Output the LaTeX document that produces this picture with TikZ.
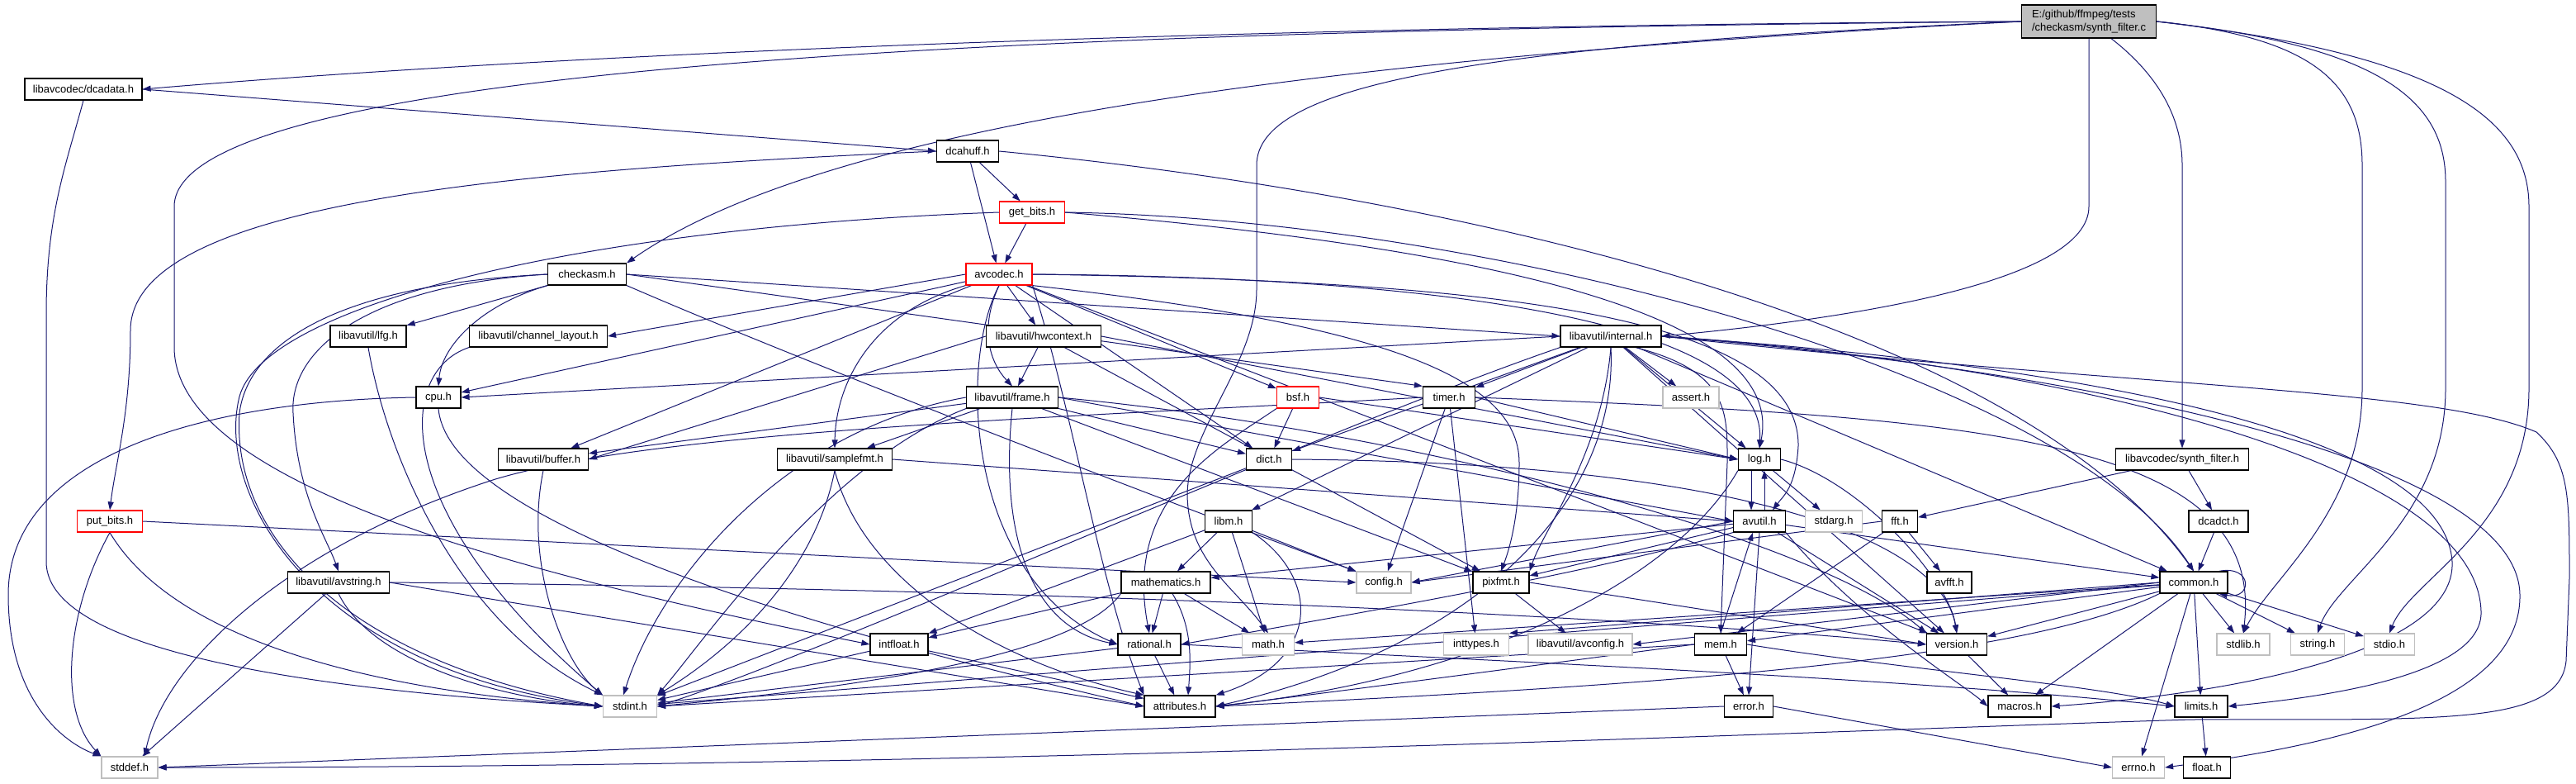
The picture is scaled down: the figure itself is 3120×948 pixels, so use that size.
\documentclass[tikz,border=0pt]{standalone}
\usepackage{fontspec}
\setmainfont{Liberation Sans}
\usetikzlibrary{arrows.meta}
\definecolor{edgec}{HTML}{191970}
\definecolor{grayb}{HTML}{BFBFBF}
\newcommand\ndfont{\fontsize{13}{16}\selectfont}
\pgfdeclarelayer{bgl}
\pgfdeclarelayer{edl}
\pgfsetlayers{bgl,edl,main}
\tikzset{
  base/.style={rectangle, fill=white, inner xsep=4pt, inner ysep=0pt, minimum height=26pt, font=\ndfont, line width=1.2pt},
  nb/.style={base, draw=black},
  nr/.style={base, draw=red},
  ng/.style={base, draw=grayb},
  ed/.style={draw=edgec, line width=1pt, -{Triangle[length=10pt,width=7pt]}},
}
\begin{document}
\begin{tikzpicture}[x=1pt,y=-1pt]
\begin{pgfonlayer}{bgl}
\fill[white] (0,0) rectangle (3120,948);
\end{pgfonlayer}
\useasboundingbox (0,0) rectangle (3120,948);

% nodes
\node[base, draw=black, fill=grayb, minimum width=163pt, minimum height=40pt, align=left] (E) at (2530,26) {E:/github/ffmpeg/tests\\/checkasm/synth\_filter.c};
\node[nb, minimum width=142pt] (dcadata) at (101,108) {libavcodec/dcadata.h};
\node[nb, minimum width=75pt] (dcahuff) at (1172,183) {dcahuff.h};
\node[nr, minimum width=79pt] (getbits) at (1250,257) {get\_bits.h};
\node[nb, minimum width=95pt] (checkasm) at (711,332) {checkasm.h};
\node[nr, minimum width=80pt] (avcodec) at (1210,332) {avcodec.h};
\node[nb, minimum width=92pt] (lfg) at (446,407) {libavutil/lfg.h};
\node[nb, minimum width=167pt] (chlayout) at (652,407) {libavutil/channel\_layout.h};
\node[nb, minimum width=139pt] (hwctx) at (1264,407) {libavutil/hwcontext.h};
\node[nb, minimum width=122pt] (internal) at (1951,407) {libavutil/internal.h};
\node[nb, minimum width=54pt] (cpu) at (531,481) {cpu.h};
\node[nb, minimum width=111pt] (frame) at (1226,481) {libavutil/frame.h};
\node[nr, minimum width=51pt] (bsf) at (1572,481) {bsf.h};
\node[nb, minimum width=63pt] (timer) at (1755,481) {timer.h};
\node[ng, minimum width=68pt] (assert) at (2048,481) {assert.h};
\node[nb, minimum width=109pt] (buffer) at (658,556) {libavutil/buffer.h};
\node[nb, minimum width=139pt] (samplefmt) at (1011,556) {libavutil/samplefmt.h};
\node[nb, minimum width=55pt] (dict) at (1537,556) {dict.h};
\node[nb, minimum width=51pt] (log) at (2131,556) {log.h};
\node[nb, minimum width=161pt] (synthf) at (2643,556) {libavcodec/synth\_filter.h};
\node[nr, minimum width=79pt] (putbits) at (133,631) {put\_bits.h};
\node[nb, minimum width=57pt] (libm) at (1488,631) {libm.h};
\node[nb, minimum width=63pt] (avutil) at (2131,631) {avutil.h};
\node[ng, minimum width=69pt] (stdarg) at (2221,631) {stdarg.h};
\node[nb, minimum width=43pt] (fft) at (2301,631) {fft.h};
\node[nb, minimum width=72pt] (dcadct) at (2687,631) {dcadct.h};
\node[nb, minimum width=123pt] (avstring) at (410,705) {libavutil/avstring.h};
\node[nb, minimum width=108pt] (mathematics) at (1412,705) {mathematics.h};
\node[ng, minimum width=66pt] (config) at (1676,705) {config.h};
\node[nb, minimum width=68pt] (pixfmt) at (1818,705) {pixfmt.h};
\node[nb, minimum width=54pt] (avfft) at (2361,705) {avfft.h};
\node[nb, minimum width=82pt] (common) at (2657,705) {common.h};
\node[nb, minimum width=70pt] (intfloat) at (1089,780) {intfloat.h};
\node[nb, minimum width=76pt] (rational) at (1392,780) {rational.h};
\node[ng, minimum width=63pt] (math) at (1536,780) {math.h};
\node[ng, minimum width=79pt] (inttypes) at (1788,780) {inttypes.h};
\node[ng, minimum width=126pt] (avconfig) at (1914,780) {libavutil/avconfig.h};
\node[nb, minimum width=63pt] (mem) at (2084,780) {mem.h};
\node[nb, minimum width=73pt] (version) at (2370,780) {version.h};
\node[ng, minimum width=64pt] (stdlib) at (2717,780) {stdlib.h};
\node[ng, minimum width=65pt] (string) at (2807,780) {string.h};
\node[ng, minimum width=61pt] (stdio) at (2894,780) {stdio.h};
\node[ng, minimum width=65pt] (stdint) at (763,855) {stdint.h};
\node[nb, minimum width=86pt] (attributes) at (1429,855) {attributes.h};
\node[nb, minimum width=59pt] (error) at (2118,855) {error.h};
\node[nb, minimum width=76pt] (macros) at (2446,855) {macros.h};
\node[nb, minimum width=64pt] (limits) at (2666,855) {limits.h};
\node[ng, minimum width=68pt] (stddef) at (157,929) {stddef.h};
\node[ng, minimum width=63pt] (errno) at (2590,929) {errno.h};
\node[nb, minimum width=57pt] (float) at (2673,929) {float.h};

\begin{pgfonlayer}{edl}
% E
\draw[ed] (E.west) .. controls (1700,30) and (800,55) .. (dcadata.east);
\draw[ed] (E.west) .. controls (1600,70) and (1000,150) .. (checkasm.north east);
\draw[ed] (E.south) -- (2530,250) .. controls (2530,340) and (2250,385) .. (internal.east);
\draw[ed] (E.west) .. controls (1500,35) and (211,60) .. (211,250) -- (211,420) .. controls (211,580) and (600,690) .. (intfloat.west);
\draw[ed] (E.west) .. controls (1800,55) and (1522,100) .. (1522,200) -- (1522,350) .. controls (1522,440) and (1438,520) .. (1438,600) .. controls (1440,680) and (1495,710) .. (math.north);
\draw[ed] ([xshift=27pt]E.south) .. controls (2600,80) and (2643,130) .. (2643,200) -- (synthf.north);
\draw[ed] (E.east) .. controls (2800,45) and (2861,100) .. (2861,200) -- (2861,470) .. controls (2861,620) and (2750,700) .. (stdlib.north);
\draw[ed] (E.east) .. controls (2880,55) and (2962,120) .. (2962,220) -- (2962,470) .. controls (2962,630) and (2830,700) .. (string.north);
\draw[ed] (E.east) .. controls (2950,65) and (3063,140) .. (3063,250) -- (3063,470) .. controls (3063,640) and (2920,700) .. (stdio.north);
% dcadata
\draw[ed] (dcadata.east) -- (dcahuff.west);
\draw[ed] (dcadata.south) .. controls (80,200) and (56,260) .. (56,380) -- (56,680) .. controls (56,800) and (450,840) .. (stdint.west);
% dcahuff
\draw[ed] (dcahuff) -- (getbits);
\draw[ed] (dcahuff) -- (avcodec);
\draw[ed] (dcahuff.west) .. controls (650,205) and (158,240) .. (158,400) .. controls (158,500) and (140,560) .. (putbits.north);
\draw[ed] (dcahuff.east) .. controls (1800,240) and (2450,400) .. (common.north);
% get_bits
\draw[ed] (getbits) -- (avcodec);
\draw[ed] (getbits.west) .. controls (700,275) and (320,370) .. (290,480) .. controls (260,600) and (380,810) .. (stdint.west);
\draw[ed] (getbits.east) .. controls (1800,265) and (2500,450) .. (common.north);
\draw[ed] (getbits.east) .. controls (1800,300) and (2165,380) .. (log.north);
% put_bits
\draw[ed] (putbits.south) .. controls (80,740) and (70,860) .. (stddef.north west);
\draw[ed] (putbits.south) .. controls (220,790) and (500,840) .. (stdint.west);
\draw[ed] (putbits.east) -- (config.west);
% checkasm
\draw[ed] (checkasm) -- (lfg);
\draw[ed] (checkasm.south west) .. controls (580,370) and (535,420) .. (cpu.north);
\draw[ed] (checkasm.west) .. controls (450,345) and (350,420) .. (355,500) .. controls (360,600) and (395,650) .. (avstring.north);
\draw[ed] (checkasm.east) -- (internal.west);
\draw[ed] (checkasm.east) -- (timer.north west);
\draw[ed] (checkasm.south east) .. controls (1000,450) and (1500,640) .. (config.north west);
\draw[ed] (checkasm.west) .. controls (400,345) and (300,420) .. (290,500) .. controls (280,650) and (420,800) .. (stdint.west);
% lfg, channel_layout
\draw[ed] (lfg.south) .. controls (470,560) and (560,760) .. (stdint.north west);
\draw[ed] (chlayout.south west) .. controls (480,450) and (470,620) .. (stdint.north west);
% cpu
\draw[ed] (cpu.west) .. controls (250,485) and (10,550) .. (10,720) .. controls (10,850) and (80,900) .. (stddef.north west);
\draw[ed] (cpu.south) .. controls (540,600) and (800,720) .. (attributes.west);
% avcodec
\draw[ed] (avcodec.west) -- (chlayout.east);
\draw[ed] (avcodec) -- (cpu);
\draw[ed] (avcodec) -- (hwctx);
\draw[ed] (avcodec.south) .. controls (1185,400) and (1200,440) .. (frame.north);
\draw[ed] (avcodec.south west) .. controls (1050,380) and (1012,470) .. (samplefmt.north);
\draw[ed] (avcodec) -- (buffer);
\draw[ed] (avcodec) -- (dict);
\draw[ed] (avcodec) -- (bsf);
\draw[ed] (avcodec.south) .. controls (1160,440) and (1170,700) .. (rational.west);
\draw[ed] (avcodec.east) .. controls (1700,335) and (2140,380) .. (log.north);
\draw[ed] (avcodec.south east) .. controls (1650,390) and (1840,450) .. (1840,560) .. controls (1840,620) and (1830,660) .. (pixfmt.north);
\draw[ed] (avcodec.east) .. controls (1800,340) and (2180,380) .. (2178,540) .. controls (2175,590) and (2160,600) .. ([xshift=16pt]avutil.north);
\draw[ed] (avcodec.south east) .. controls (1300,500) and (1330,700) .. (attributes.north west);
\draw[ed] (avcodec) -- (version);
% hwcontext
\draw[ed] (hwctx) -- (frame);
\draw[ed] (hwctx.west) -- (buffer.east);
\draw[ed] (hwctx.east) -- (log.west);
\draw[ed] (hwctx) -- (pixfmt);
% internal
\draw[ed] (internal.west) -- (cpu.east);
\draw[ed] (internal) -- (timer);
\draw[ed] (internal) -- (assert);
\draw[ed] (internal) -- (dict);
\draw[ed] (internal) -- (log);
\draw[ed] (internal) -- (libm);
\draw[ed] (internal.south) .. controls (1940,550) and (1870,640) .. (pixfmt.north east);
\draw[ed] (internal.south) .. controls (1960,600) and (1800,780) .. (attributes.east);
\draw[ed] (internal.south west) .. controls (1600,520) and (1000,790) .. (stdint.east);
\draw[ed] ([xshift=30pt]internal.south) .. controls (2095,450) and (2092,500) .. (2092,560) -- (mem.north);
\draw[ed] (internal) -- (version);
\draw[ed] (internal) -- (common);
\draw[ed] (internal.east) .. controls (2500,440) and (2960,520) .. (2970,680) .. controls (2975,790) and (2700,840) .. (macros.east);
\draw[ed] (internal.east) .. controls (2500,440) and (3000,560) .. (3005,740) .. controls (3008,820) and (2800,845) .. (limits.east);
\draw[ed] (internal.east) .. controls (2550,450) and (3050,560) .. (3052,720) .. controls (3054,860) and (2800,905) .. (errno.east);
\draw[ed] (internal.east) .. controls (2600,470) and (2950,470) .. (3072,523) .. controls (3112,560) and (3112,600) .. (3112,700) -- (3108,800) .. controls (3100,880) and (2950,870) .. (2654,871) .. controls (2200,885) and (1200,929) .. (stddef.east);
% frame
\draw[ed] (frame) -- (buffer);
\draw[ed] (frame) -- (samplefmt);
\draw[ed] (frame) -- (dict);
\draw[ed] (frame.south) .. controls (1210,650) and (1250,760) .. (rational.west);
\draw[ed] (frame.east) -- (avutil.west);
\draw[ed] (frame) -- (pixfmt);
\draw[ed] (frame.east) .. controls (1700,520) and (2200,650) .. (version.north west);
\draw[ed] (frame.south west) .. controls (1000,560) and (850,780) .. (stdint.north east);
\draw[ed] (frame.west) .. controls (950,520) and (800,700) .. ([xshift=-8pt]stdint.north);
% bsf
\draw[ed] (bsf) -- (dict);
\draw[ed] (bsf.south west) .. controls (1480,540) and (1360,600) .. (rational.north);
\draw[ed] (bsf.east) -- (log.west);
% timer
\draw[ed] (timer) -- (config);
\draw[ed] (timer.east) -- (log.west);
\draw[ed] (timer) -- (inttypes);
\draw[ed] (timer.east) .. controls (2400,505) and (2745,530) .. (stdlib.north);
\draw[ed] (timer.west) .. controls (1300,505) and (800,520) .. (600,580) .. controls (350,660) and (200,800) .. ([xshift=18pt]stddef.north);
% buffer
\draw[ed] (buffer.south) .. controls (635,680) and (680,800) .. (stdint.north west);
% samplefmt
\draw[ed] (samplefmt.east) -- (avutil.west);
\draw[ed] (samplefmt.south) .. controls (1045,700) and (1200,800) .. (attributes.north west);
\draw[ed] (samplefmt.south) .. controls (985,700) and (880,790) .. (stdint.north east);
% dict
\draw[ed] (dict) -- (stdint);
\draw[ed] (dict.east) .. controls (2100,560) and (2350,650) .. (version.north);
% log
\draw[ed] ([xshift=-10pt]log.south) -- ([xshift=-10pt]avutil.north);
\draw[ed] ([xshift=6pt]avutil.north) -- ([xshift=6pt]log.south);
\draw[ed] (log) -- (stdarg);
\draw[ed] (log.south west) .. controls (2030,700) and (1800,820) .. (attributes.east);
\draw[ed] (log.east) .. controls (2250,580) and (2360,700) .. (version.north);
% libm
\draw[ed] (libm) -- (config);
\draw[ed] (libm.south east) .. controls (1600,700) and (1600,800) .. (attributes.north east);
\draw[ed] (libm) -- (intfloat);
\draw[ed] (libm) -- (mathematics);
\draw[ed] (libm) -- (math);
% avutil
\draw[ed] (avutil) -- (common);
\draw[ed] (avutil.south) -- (error.north);
\draw[ed] (avutil.south west) .. controls (1900,700) and (1600,750) .. (rational.east);
\draw[ed] (avutil) -- (mathematics);
\draw[ed] (avutil) -- (version);
\draw[ed] (avutil.south east) .. controls (2250,750) and (2380,830) .. (macros.west);
\draw[ed] (avutil) -- (pixfmt);
\draw[ed] (avutil.west) -- (config.east);
% fft, synth_filter, dcadct
\draw[ed] (fft.west) -- (config.east);
\draw[ed] (fft) -- (mem);
\draw[ed] (fft) -- (avfft);
\draw[ed] (synthf) -- (fft);
\draw[ed] (synthf) -- (dcadct);
\draw[ed] (dcadct) -- (common);
% avstring
\draw[ed] (avstring) -- (stddef);
\draw[ed] (avstring.south) .. controls (450,800) and (600,845) .. (stdint.west);
\draw[ed] (avstring.east) -- (attributes.west);
\draw[ed] (avstring.east) .. controls (1200,712) and (1900,740) .. (version.west);
% mathematics
\draw[ed] (mathematics) -- (rational);
\draw[ed] ([xshift=8pt]mathematics.south) .. controls (1445,760) and (1442,800) .. ([xshift=10pt]attributes.north);
\draw[ed] (mathematics) -- (math);
\draw[ed] (mathematics) -- (intfloat);
\draw[ed] (mathematics.south west) .. controls (1300,800) and (1000,835) .. (stdint.east);
% pixfmt
\draw[ed] (pixfmt) -- (avconfig);
\draw[ed] (pixfmt.east) -- (version.west);
% common
\draw[ed] ([xshift=-11pt]common.north east) .. controls ([xshift=30pt,yshift=8pt]common.north east) and ([xshift=30pt,yshift=-8pt]common.south east) .. ([xshift=-11pt]common.south east);
\draw[ed] (common) -- (errno);
\draw[ed] (common) -- (limits);
\draw[ed] (common) -- (macros);
\draw[ed] (common) -- (stdlib);
\draw[ed] (common) -- (string);
\draw[ed] (common) -- (stdio);
\draw[ed] (common) -- (version);
\draw[ed] (common) -- (mem);
\draw[ed] (common) -- (math);
\draw[ed] (common) -- (stdint);
\draw[ed] (common.west) -- (inttypes.north east);
\draw[ed] (common.west) -- (avconfig.east);
\draw[ed] (common.south west) .. controls (2450,800) and (2000,830) .. (attributes.east);
% intfloat, rational
\draw[ed] (intfloat) -- (stdint);
\draw[ed] (intfloat) -- (attributes);
\draw[ed] (rational) -- (stdint);
\draw[ed] (rational) -- (attributes);
\draw[ed] (rational.east) .. controls (1800,800) and (2300,820) .. (limits.west);
% mem
\draw[ed] (mem.north) -- ([xshift=-8pt]avutil.south);
\draw[ed] (mem) -- (error);
\draw[ed] (mem.west) .. controls (1900,800) and (1600,840) .. (attributes.east);
\draw[ed] (mem.west) -- (stdint.east);
\draw[ed] (mem.east) .. controls (2300,810) and (2550,830) .. (limits.west);
% error, version, limits
\draw[ed] (error.east) -- (errno.west);
\draw[ed] (error.west) -- (stddef.east);
\draw[ed] (version) -- (macros);
\draw[ed] (limits) -- (float);
\end{pgfonlayer}
\end{tikzpicture}
\end{document}
